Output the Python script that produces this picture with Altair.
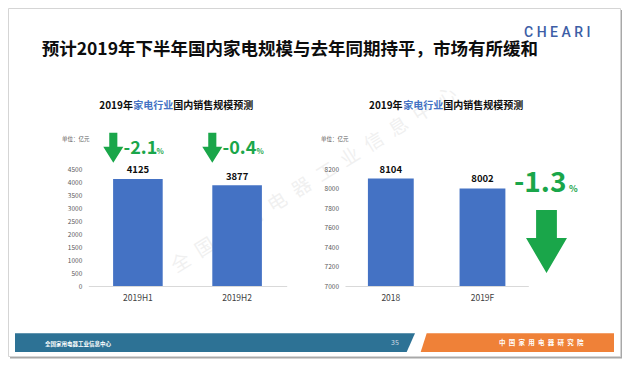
import altair as alt
import pandas as pd

# ---------------- data ----------------
left_categories = ["2019H1", "2019H2"]
left_values = [4125, 3877]
right_categories = ["2018", "2019F"]
right_values = [8104, 8002]
left_ticks = [0, 500, 1000, 1500, 2000, 2500, 3000, 3500, 4000, 4500]
right_ticks = [7000, 7200, 7400, 7600, 7800, 8000, 8200]
change_labels = ["-2.1", "-0.4", "-1.3"]

slide_title = "预计2019年下半年国内家电规模与去年同期持平，市场有所缓和"
chart_title_parts = ["2019年", "家电行业", "国内销售规模预测"]
unit_label = "单位：亿元"
logo_text = "C  H  E  A  R  I"
watermark = "\u2002".join("全国家用电器工业信息中心")
footer_left = "全国家用电器工业信息中心"
footer_page = "35"
footer_right = "\u2002".join("中国家用电器研究院")

# ---------------- style ----------------
W, H = 614, 351
FONT = "Noto Sans CJK SC"
BLUE = "#4472C4"
GREEN = "#1aa64a"
DARK = "#0d0d0d"

one = pd.DataFrame({"a": [0]})


def txt(s, x, y, size, color=DARK, weight="normal", align="left",
        baseline="middle", font=FONT, angle=0, opacity=1.0):
    return alt.Chart(one).mark_text(
        text=s, fontSize=size, color=color, fontWeight=weight, align=align,
        baseline=baseline, font=font, angle=angle, opacity=opacity
    ).encode(x=alt.value(x), y=alt.value(y))


def shape(path, size, cx, cy, color):
    return alt.Chart(one).mark_point(
        shape=path, size=size, filled=True, color=color, opacity=1, strokeWidth=0
    ).encode(x=alt.value(cx), y=alt.value(cy))


def rect(x, x2, y, y2, fill, stroke=None):
    kw = dict(fill=fill)
    if stroke:
        kw.update(stroke=stroke, strokeWidth=1)
    return alt.Chart(one).mark_rect(**kw).encode(
        x=alt.value(x), x2=alt.value(x2), y=alt.value(y), y2=alt.value(y2))


def x_axis():
    return alt.Axis(orient="bottom", offset=-73, title=None, labelAngle=0,
                    ticks=False, grid=False, domainColor="#d9d9d9", zindex=2,
                    labelFont=FONT, labelFontSize=8.5, labelColor="#404040",
                    labelPadding=7)


def y_axis(offset, values):
    return alt.Axis(orient="left", offset=offset, values=values, tickCount=len(values),
                    title=None, format="d", labelOverlap=False, domain=False,
                    ticks=False, grid=False, labelFont=FONT, zindex=2,
                    labelFontSize=6.5, labelColor="#595959", labelPadding=6.5)


# ---------------- slide background ----------------
shadow = rect(2, 614.5, 2, 350.5, "#a8a8a8")
slide = rect(0.5, 612.5, 0.5, 348.5, "#ffffff", "#d5d5d5")
wm = txt(watermark, 306, 172, 19, color="#b0b0b0", align="center", angle=328, opacity=0.18)

# ---------------- left chart ----------------
left_df = pd.DataFrame({"cat": left_categories, "val": left_values})
xL = alt.X("cat:N", sort=left_categories,
           scale=alt.Scale(range=[80.3, 278.7], paddingInner=0.5, paddingOuter=0.25),
           axis=x_axis())
yL = alt.Y("val:Q",
           scale=alt.Scale(domain=[0, 4500], range=[278, 161.2], nice=False),
           axis=y_axis(-80.3, left_ticks))
left_bars = alt.Chart(left_df).mark_bar(color=BLUE).encode(x=xL, y=yL, y2=alt.datum(0))
left_text = alt.Chart(left_df).mark_text(
    baseline="alphabetic", dy=-5.5, fontWeight="bold", fontSize=9.5, font=FONT, color=DARK
).encode(x=alt.X("cat:N", sort=left_categories), y="val:Q", text="val:Q")
left_chart = alt.layer(left_bars, left_text)

# ---------------- right chart ----------------
right_df = pd.DataFrame({"cat2": right_categories, "val2": right_values})
xR = alt.X("cat2:N", sort=right_categories,
           scale=alt.Scale(range=[337, 520.3], paddingInner=0.5, paddingOuter=0.25),
           axis=x_axis())
yR = alt.Y("val2:Q",
           scale=alt.Scale(domain=[7000, 8200], range=[278, 161.2], nice=False, zero=False),
           axis=y_axis(-337, right_ticks))
right_bars = alt.Chart(right_df).mark_bar(color=BLUE).encode(x=xR, y=yR, y2=alt.datum(7000))
right_text = alt.Chart(right_df).mark_text(
    baseline="alphabetic", dy=-6, fontWeight="bold", fontSize=9.5, font=FONT, color=DARK
).encode(x=alt.X("cat2:N", sort=right_categories), y="val2:Q", text="val2:Q")
right_chart = alt.layer(right_bars, right_text)

# ---------------- texts ----------------
title = txt(slide_title, 33.7, 42, 17.5, weight="bold")
logo = txt(logo_text, 549.3, 24.5, 14, color="#3d5ea6", weight=500, align="center",
           font="Roboto")

ct = []
for x0, x1, x2 in [(91.3, 125.3, 165.3), (361, 395.3, 435.3)]:
    ct.append(txt(chart_title_parts[0], x0, 98, 10, weight="bold"))
    ct.append(txt(chart_title_parts[1], x1, 98, 10, color=BLUE, weight="bold"))
    ct.append(txt(chart_title_parts[2], x2, 98, 10, weight="bold"))

units = [txt(unit_label, 54, 131, 5.5, color="#595959"),
         txt(unit_label, 313, 131, 5.5, color="#595959")]

# change annotations
arrow_small = "M-0.27,-1L0.27,-1L0.27,-0.07L0.67,-0.07L0,1L-0.67,-0.07L-0.27,-0.07Z"
arrow_big = "M-0.33,-1L0.33,-1L0.33,-0.11L0.65,-0.11L0,1L-0.65,-0.11L-0.33,-0.11Z"
ann = [
    shape(arrow_small, 900, 105.3, 139.7, GREEN),
    shape(arrow_small, 900, 204.3, 139.7, GREEN),
    shape(arrow_big, 3969, 538.5, 233.5, GREEN),
    txt(change_labels[0], 115.5, 146.3, 18, color=GREEN, weight="bold", baseline="alphabetic"),
    txt("%", 148.5, 146.3, 7.5, color=GREEN, weight="bold", baseline="alphabetic"),
    txt(change_labels[1], 214.5, 146.3, 18, color=GREEN, weight="bold", baseline="alphabetic"),
    txt("%", 248.5, 146.3, 7.5, color=GREEN, weight="bold", baseline="alphabetic"),
    txt(change_labels[2], 558.5, 183.7, 28, color=GREEN, weight="bold", align="right", baseline="alphabetic"),
    txt("%", 561, 183.7, 9, color=GREEN, weight="bold", baseline="alphabetic"),
]

# ---------------- footer ----------------
footer = [
    shape("M-1,-0.0468L1,-0.0468L0.9585,0.0468L-1,0.0468Z", 160000, 207, 334.65, "#2d7295"),
    shape("M-0.938,-0.0967L1,-0.0967L1,0.0967L-1,0.0967Z", 37365, 509.35, 334.65, "#ef8138"),
    txt(footer_left, 37, 335.5, 5.5, color="#ffffff", weight="bold"),
    txt(footer_page, 387, 334.7, 7, color="#d0dbe4", align="center"),
    txt(footer_right, 533.3, 334.7, 6.5, color="#ffffff", weight="bold", align="center"),
]

chart = alt.layer(
    shadow, slide, wm, left_chart, right_chart, title, logo, *ct, *units, *ann, *footer
).resolve_scale(x="independent", y="independent").resolve_axis(
    x="independent", y="independent"
).properties(
    width=W, height=H, padding=0, autosize=alt.AutoSizeParams(type="none")
).configure_view(strokeWidth=0)

chart.save("out.html", embed_options={"renderer": "svg", "actions": False})
